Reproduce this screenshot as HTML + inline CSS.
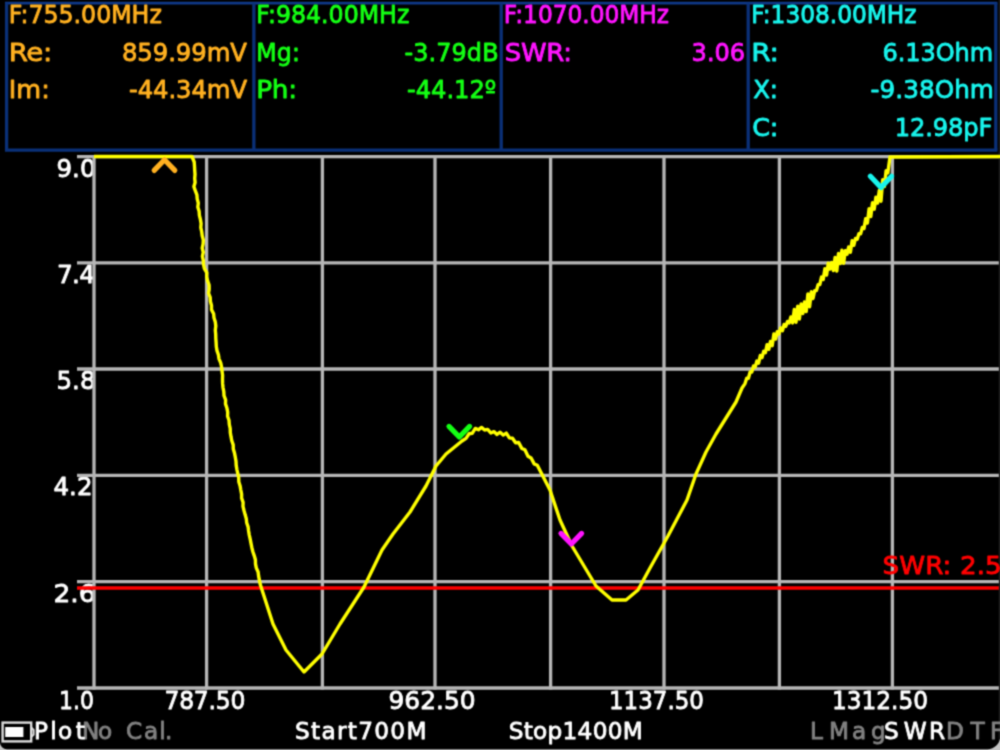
<!DOCTYPE html>
<html lang="en">
<head>
<meta charset="utf-8">
<title>VNA SWR plot</title>
<style>
html, body { margin: 0; padding: 0; background: #000; overflow: hidden; }
svg { display: block; font-family: "DejaVu Sans", "Liberation Sans", sans-serif; }
</style>
</head>
<body>
<svg width="1000" height="750" viewBox="0 0 1000 750">
<defs>
<filter id="soft" x="0" y="0" width="1000" height="750" filterUnits="userSpaceOnUse" color-interpolation-filters="sRGB">
<feConvolveMatrix order="3" kernelMatrix="0.0400 0.1200 0.0400 0.1200 0.3600 0.1200 0.0400 0.1200 0.0400" divisor="1" edgeMode="duplicate" preserveAlpha="true"/>
</filter>
</defs>
<g filter="url(#soft)">
<rect x="-20" y="-20" width="1040" height="790" fill="#000"/>
<path d="M-20,770 V742.2 H0 A7,7 0 0 0 7,749.2 H987.5 A12.5,12.5 0 0 0 1000,736.7 H1020 V770 Z" fill="#c4c4c4"/>
<g fill="none" stroke="#0a3078" stroke-width="3.3">
<line x1="4.949999999999999" y1="3.1" x2="997.4499999999999" y2="3.1" stroke="#0e3888" stroke-width="2.9"/>
<line x1="4.949999999999999" y1="150.1" x2="997.4499999999999" y2="150.1"/>
<line x1="6.6" y1="3.1" x2="6.6" y2="150.1"/>
<line x1="253.85" y1="3.1" x2="253.85" y2="150.1"/>
<line x1="501.2" y1="3.1" x2="501.2" y2="150.1"/>
<line x1="748.2" y1="3.1" x2="748.2" y2="150.1"/>
<line x1="995.8" y1="3.1" x2="995.8" y2="150.1"/>
</g>
<text transform="translate(56.50 176.6) scale(0.974 1)" fill="#ffffff" font-size="25.2" font-weight="normal" stroke="#ffffff" stroke-width="0.85" stroke-linejoin="round">9.0</text>
<text transform="translate(57.00 282.8) scale(0.986 1)" fill="#ffffff" font-size="25.2" font-weight="normal" letter-spacing="-0.76" stroke="#ffffff" stroke-width="0.85" stroke-linejoin="round">7.4</text>
<text transform="translate(56.50 389.0) scale(0.974 1)" fill="#ffffff" font-size="25.2" font-weight="normal" stroke="#ffffff" stroke-width="0.85" stroke-linejoin="round">5.8</text>
<text transform="translate(53.50 495.3) scale(0.973 1)" fill="#ffffff" font-size="25.2" font-weight="normal" stroke="#ffffff" stroke-width="0.85" stroke-linejoin="round">4.2</text>
<text transform="translate(53.50 601.6) scale(1.053 1)" fill="#ffffff" font-size="25.2" font-weight="normal" stroke="#ffffff" stroke-width="0.85" stroke-linejoin="round">2.6</text>
<text transform="translate(59.00 708.5) scale(0.87 1)" fill="#ffffff" font-size="25.2" font-weight="normal" letter-spacing="0.11" stroke="#ffffff" stroke-width="0.85" stroke-linejoin="round">1.0</text>
<g stroke="#b6b6b6" stroke-width="3.3" fill="none">
<line x1="77" y1="156.6" x2="1000" y2="156.6"/>
<line x1="77" y1="262.8" x2="1000" y2="262.8"/>
<line x1="77" y1="369" x2="1000" y2="369"/>
<line x1="77" y1="475.3" x2="1000" y2="475.3"/>
<line x1="77" y1="581.6" x2="1000" y2="581.6"/>
<line x1="77" y1="688" x2="1000" y2="688"/>
<line x1="94" y1="155.1" x2="94" y2="689.5"/>
<line x1="206.6" y1="155.1" x2="206.6" y2="689.5"/>
<line x1="322.4" y1="155.1" x2="322.4" y2="689.5"/>
<line x1="435" y1="155.1" x2="435" y2="689.5"/>
<line x1="550.6" y1="155.1" x2="550.6" y2="689.5"/>
<line x1="664" y1="155.1" x2="664" y2="689.5"/>
<line x1="779.4" y1="155.1" x2="779.4" y2="689.5"/>
<line x1="892.4" y1="155.1" x2="892.4" y2="689.5"/>
</g>
<line x1="77" y1="588" x2="1000" y2="588" stroke="#ff0000" stroke-width="3.3"/>
<rect x="998.8" y="0" width="1.4" height="738" fill="#1e1e1e"/>
<path d="M94,156.5 L192,156.5 L194.2,162.0 L194.5,166.1 L194.7,170.2 L195.0,174.3 L194.7,178.4 L195.1,182.5 L193.9,186.6 L195.3,190.7 L196.9,194.8 L197.2,198.9 L198.3,203.0 L197.8,207.1 L199.1,211.2 L199.4,215.3 L200.4,219.4 L201.1,223.5 L200.8,227.6 L201.7,231.7 L202.2,235.8 L203.3,239.9 L203.1,244.0 L202.2,248.1 L203.3,252.2 L202.4,256.3 L203.3,260.4 L203.5,264.5 L204.4,268.6 L206.8,272.7 L206.7,276.8 L207.6,280.9 L209.1,285.0 L209.2,289.1 L208.5,293.2 L210.2,297.3 L210.4,301.4 L211.5,305.5 L211.5,309.6 L213.6,313.7 L214.0,317.8 L215.3,321.9 L215.8,326.0 L215.3,330.1 L215.7,334.2 L215.8,338.3 L216.1,342.4 L216.3,346.5 L217.0,350.6 L218.4,354.7 L219.0,358.8 L220.7,362.9 L221.6,367.0 L222.0,371.1 L222.6,375.2 L222.5,379.3 L222.6,383.4 L223.0,387.5 L223.8,391.6 L224.0,395.7 L225.6,399.8 L225.5,403.9 L226.9,408.0 L227.7,412.1 L227.6,416.2 L229.0,420.3 L229.3,424.4 L230.2,428.5 L230.3,432.6 L231.0,436.7 L231.8,440.8 L233.2,444.9 L233.3,449.0 L234.5,453.1 L235.3,457.2 L236.0,461.3 L236.2,465.4 L236.9,469.5 L237.8,473.6 L238.7,477.7 L238.8,481.8 L240.1,485.9 L240.8,490.0 L241.6,494.1 L241.6,498.2 L243.1,502.3 L243.0,506.4 L244.0,510.5 L245.1,514.6 L246.3,518.7 L246.7,522.8 L248.1,526.9 L248.6,531.0 L249.3,535.1 L250.2,539.2 L251.0,543.3 L251.8,547.4 L252.8,551.5 L254.2,555.6 L255.4,559.7 L255.5,563.8 L256.3,567.9 L258.1,572.0 L258.6,576.1 L259.4,580.2 L260.2,584.3 L273,624 L286,650 L304,672 L322,654 L340,624 L364,587 L382,550 L393,534 L410,512 L426,486 L436,466 L446,454 L462,441 L466,438.4 L469.1,433.8 L472.2,433.3 L475.3,428.4 L478.4,429.8 L481.5,427.4 L484.6,430.0 L487.7,429.4 L490.8,433.0 L493.9,431.6 L497.0,434.5 L500.1,432.2 L503.2,435.1 L506.3,433.1 L509.4,437.9 L512.5,438.3 L515.6,442.8 L518.7,442.5 L521.8,448.4 L524.9,449.7 L528.0,456.2 L531.1,458.0 L534.2,463.9 L537.3,465.3 L550,490 L560,520 L572,546 L596,586 L612,600 L626,600 L638,590 L650,568 L668,536 L687,500 L696,474 L706,452 L716,434 L726,418 L736,402 L742,388 L745,383.6 L746.7,378.3 L748.4,378.3 L750.1,372.0 L751.8,372.0 L753.5,366.0 L755.2,366.9 L756.9,361.1 L758.6,363.2 L760.3,355.5 L762.0,357.6 L763.7,351.3 L765.4,352.7 L767.1,344.7 L768.8,349.3 L770.5,341.4 L772.2,345.7 L773.9,334.0 L775.6,339.1 L777.3,331.7 L779.0,333.9 L780.7,328.0 L782.4,330.7 L784.1,324.5 L785.8,326.2 L787.5,321.6 L789.2,322.9 L790.9,317.0 L792.6,322.9 L794.3,309.5 L796.0,322.4 L797.7,306.3 L799.4,319.0 L801.1,303.9 L802.8,313.5 L804.5,302.0 L806.2,311.6 L807.9,293.9 L809.6,306.8 L811.3,291.7 L813.0,298.5 L814.7,290.6 L816.4,290.6 L818.1,284.7 L819.8,284.5 L821.5,277.1 L823.2,279.5 L824.9,268.8 L826.6,275.1 L828.3,263.1 L830.0,269.1 L831.7,262.5 L833.4,270.6 L835.1,257.4 L836.8,271.1 L838.5,253.5 L840.2,263.6 L841.9,250.2 L843.6,263.2 L845.3,250.7 L847.0,254.3 L848.7,246.9 L850.4,252.3 L852.1,240.8 L853.8,245.3 L855.5,238.4 L857.2,239.2 L858.9,233.7 L860.6,233.9 L862.3,227.4 L864.0,228.5 L865.7,218.6 L867.4,223.1 L869.1,208.7 L870.8,216.5 L872.5,202.6 L874.2,209.2 L875.9,197.2 L877.6,203.1 L879.3,190.4 L881.0,201.2 L882.7,179.6 L884.4,186.6 L886.1,170.6 L887.8,172.9 L890,157 L1000,156.5" fill="none" stroke="#ffff00" stroke-width="3.4" stroke-linejoin="round"/>
<path d="M154.2,170.4 L164.5,159.8 L174.8,170.4" fill="none" stroke="#ffb020" stroke-width="5.2" stroke-linecap="round" stroke-linejoin="round"/>
<path d="M449.0,426.4 L459.3,437 L469.6,426.4" fill="none" stroke="#14ff14" stroke-width="5.2" stroke-linecap="round" stroke-linejoin="round"/>
<path d="M561.0,533.4 L571.3,544 L581.5999999999999,533.4" fill="none" stroke="#ff14ff" stroke-width="5.2" stroke-linecap="round" stroke-linejoin="round"/>
<path d="M870.4,176.2 L881,187.6 L891.6,176.2" fill="none" stroke="#18f4ec" stroke-width="5.2" stroke-linecap="round" stroke-linejoin="round"/>
<rect x="2.6" y="722.6" width="28.6" height="18.8" fill="none" stroke="#dcdcdc" stroke-width="2.4"/>
<rect x="5.2" y="727" width="18.2" height="10" fill="#fff"/>
<path d="M31.2,727.5 L33.6,730 L33.6,734.5 L31.2,737" fill="none" stroke="#dcdcdc" stroke-width="2"/>
<text transform="translate(8.70 23.0) scale(0.962 1)" fill="#ffb020" font-size="24.6" font-weight="normal" stroke="#ffb020" stroke-width="0.85" stroke-linejoin="round">F:755.00MHz</text>
<text transform="translate(8.70 60.5) scale(1.123 1)" fill="#ffb020" font-size="24.6" font-weight="normal" letter-spacing="-0.31" stroke="#ffb020" stroke-width="0.85" stroke-linejoin="round">Re:</text>
<text transform="translate(121.90 60.5) scale(0.989 1)" fill="#ffb020" font-size="24.6" font-weight="normal" letter-spacing="-0.06" stroke="#ffb020" stroke-width="0.85" stroke-linejoin="round">859.99mV</text>
<text transform="translate(8.70 98.0) scale(1.037 1)" fill="#ffb020" font-size="24.6" font-weight="normal" letter-spacing="0.14" stroke="#ffb020" stroke-width="0.85" stroke-linejoin="round">Im:</text>
<text transform="translate(129.00 98.0) scale(0.987 1)" fill="#ffb020" font-size="24.6" font-weight="normal" letter-spacing="-0.07" stroke="#ffb020" stroke-width="0.85" stroke-linejoin="round">-44.34mV</text>
<text transform="translate(256.20 23.0) scale(0.962 1)" fill="#14ff14" font-size="24.6" font-weight="normal" stroke="#14ff14" stroke-width="0.85" stroke-linejoin="round">F:984.00MHz</text>
<text transform="translate(256.20 60.5) scale(0.961 1)" fill="#14ff14" font-size="24.6" font-weight="normal" letter-spacing="0.21" stroke="#14ff14" stroke-width="0.85" stroke-linejoin="round">Mg:</text>
<text transform="translate(404.50 60.5) scale(0.973 1)" fill="#14ff14" font-size="24.6" font-weight="normal" letter-spacing="0.09" stroke="#14ff14" stroke-width="0.85" stroke-linejoin="round">-3.79dB</text>
<text transform="translate(256.20 98.0) scale(1.071 1)" fill="#14ff14" font-size="24.6" font-weight="normal" letter-spacing="-0.28" stroke="#14ff14" stroke-width="0.85" stroke-linejoin="round">Ph:</text>
<text transform="translate(407.00 98.0) scale(0.985 1)" fill="#14ff14" font-size="24.6" font-weight="normal" letter-spacing="-0.05" stroke="#14ff14" stroke-width="0.85" stroke-linejoin="round">-44.12º</text>
<text transform="translate(503.70 23.0) scale(0.947 1)" fill="#ff14ff" font-size="24.6" font-weight="normal" letter-spacing="-0.02" stroke="#ff14ff" stroke-width="0.85" stroke-linejoin="round">F:1070.00MHz</text>
<text transform="translate(504.70 60.5) scale(1.054 1)" fill="#ff14ff" font-size="24.6" font-weight="normal" letter-spacing="-0.22" stroke="#ff14ff" stroke-width="0.85" stroke-linejoin="round">SWR:</text>
<text transform="translate(691.60 60.5) scale(0.979 1)" fill="#ff14ff" font-size="24.6" font-weight="normal" letter-spacing="-0.03" stroke="#ff14ff" stroke-width="0.85" stroke-linejoin="round">3.06</text>
<text transform="translate(751.20 23.0) scale(0.947 1)" fill="#18f4ec" font-size="24.6" font-weight="normal" letter-spacing="-0.02" stroke="#18f4ec" stroke-width="0.85" stroke-linejoin="round">F:1308.00MHz</text>
<text transform="translate(751.20 60.5) scale(1.14 1)" fill="#18f4ec" font-size="24.6" font-weight="normal" letter-spacing="-0.18" stroke="#18f4ec" stroke-width="0.85" stroke-linejoin="round">R:</text>
<text transform="translate(882.40 60.5) scale(0.978 1)" fill="#18f4ec" font-size="24.6" font-weight="normal" letter-spacing="-0.07" stroke="#18f4ec" stroke-width="0.85" stroke-linejoin="round">6.13Ohm</text>
<text transform="translate(753.20 98.0) scale(0.991 1)" fill="#18f4ec" font-size="24.6" font-weight="normal" letter-spacing="-0.20" stroke="#18f4ec" stroke-width="0.85" stroke-linejoin="round">X:</text>
<text transform="translate(870.60 98.0) scale(1.003 1)" fill="#18f4ec" font-size="24.6" font-weight="normal" letter-spacing="0.06" stroke="#18f4ec" stroke-width="0.85" stroke-linejoin="round">-9.38Ohm</text>
<text transform="translate(752.20 135.5) scale(1.036 1)" fill="#18f4ec" font-size="24.6" font-weight="normal" letter-spacing="-0.19" stroke="#18f4ec" stroke-width="0.85" stroke-linejoin="round">C:</text>
<text transform="translate(894.70 135.5) scale(0.982 1)" fill="#18f4ec" font-size="24.6" font-weight="normal" letter-spacing="-0.12" stroke="#18f4ec" stroke-width="0.85" stroke-linejoin="round">12.98pF</text>
<text transform="translate(164.50 708.5) scale(0.929 1)" fill="#ffffff" font-size="25.2" font-weight="normal" letter-spacing="-0.22" stroke="#ffffff" stroke-width="0.85" stroke-linejoin="round">787.50</text>
<text transform="translate(388.50 708.5) scale(0.988 1)" fill="#ffffff" font-size="25.2" font-weight="normal" stroke="#ffffff" stroke-width="0.85" stroke-linejoin="round">962.50</text>
<text transform="translate(609.00 708.5) scale(0.911 1)" fill="#ffffff" font-size="25.2" font-weight="normal" stroke="#ffffff" stroke-width="0.85" stroke-linejoin="round">1137.50</text>
<text transform="translate(832.00 708.5) scale(0.921 1)" fill="#ffffff" font-size="25.2" font-weight="normal" stroke="#ffffff" stroke-width="0.85" stroke-linejoin="round">1312.50</text>
<text transform="translate(295.00 739.0)" fill="#ffffff" font-size="23.2" font-weight="normal" letter-spacing="1.31" stroke="#ffffff" stroke-width="0.85" stroke-linejoin="round">Start700M</text>
<text transform="translate(508.70 739.0)" fill="#ffffff" font-size="23.2" font-weight="normal" letter-spacing="0.29" stroke="#ffffff" stroke-width="0.85" stroke-linejoin="round">Stop1400M</text>
<text transform="translate(882.50 574.2) scale(1.04 1)" fill="#ff0000" font-size="25.2" font-weight="normal" letter-spacing="0.07" stroke="#ff0000" stroke-width="0.85" stroke-linejoin="round">SWR: 2.5</text>
<text x="82.1 98.1 112.3 126.1 144.0 159.2 164.9" y="739.0" fill="#808080" font-size="23.2" stroke="#808080" stroke-width="0.85" stroke-linejoin="round">No Cal.</text>
<text x="34.1 50.2 58.1 75.8" y="739.0" fill="#ffffff" font-size="23.2" stroke="#ffffff" stroke-width="0.85" stroke-linejoin="round">Plot</text>
<text x="810.1 829.1 852.0 871.1" y="739.0" fill="#808080" font-size="23.2" stroke="#808080" stroke-width="0.85" stroke-linejoin="round">LMag</text>
<text x="946.1 970.5 990.1" y="739.0" fill="#808080" font-size="23.2" stroke="#808080" stroke-width="0.85" stroke-linejoin="round">DTF</text>
<text x="883.9 903.7 929.1" y="739.0" fill="#ffffff" font-size="23.2" stroke="#ffffff" stroke-width="0.85" stroke-linejoin="round">SWR</text>
</g>
</svg>
</body>
</html>
